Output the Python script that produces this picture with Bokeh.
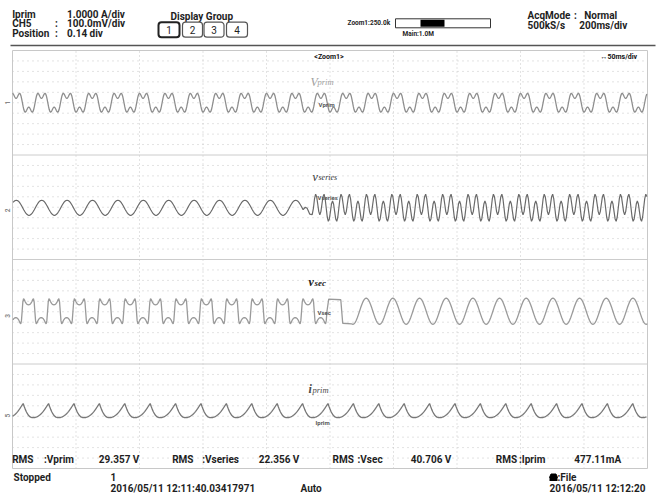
import numpy as np
from bokeh.plotting import figure
from bokeh.models import Range1d
from bokeh.core.properties import value
from bokeh.embed import file_html
from bokeh.resources import INLINE

# ---------------- acquisition / display settings ----------------
MS_PER_DIV = 50          # zoomed time base
N_DIV = 10
ROWS = 40                # 4 display panels x 10 rows
T_END = MS_PER_DIV * N_DIV

CH_NAME = "Iprim"
CH_ID = "CH5"
CH_SCALE = "1.0000 A/div"
CH_PROBE = "100.0mV/div"
CH_POSITION = "0.14 div"
DISPLAY_GROUPS = ["1", "2", "3", "4"]
ZOOM_TEXT = "Zoom1:250.0k"
MAIN_TEXT = "Main:1.0M"
ACQ_MODE = "Normal"
SAMPLE_RATE = "500kS/s"
MAIN_TIMEBASE = "200ms/div"
ZOOM_TITLE = "<Zoom1>"
ZOOM_TIMEBASE = "\u219450ms/div"

TRACE_NAMES = ["Vprim", "Vseries", "Vsec", "Iprim"]
RMS_VALUES = ["29.357 V", "22.356 V", "40.706 V", "477.11mA"]
STATUS = "Stopped"
ACQ_COUNT = "1"
TRIG_TIME = "2016/05/11 12:11:40.03417971"
TRIG_MODE = "Auto"
SAVE_TARGET = ":File"
SAVE_TIME = "2016/05/11 12:12:20"

# ---------------- one-cycle waveform shapes (normalised) ----------------
PERIOD_MS = 20.0          # 50 Hz
SEC_SINE_PERIOD_MS = 21.0

SINE_CYCLE = [0.0, 0.26, 0.50, 0.71, 0.87, 0.97, 1.0, 0.97, 0.87, 0.71, 0.50, 0.26,
              0.0, -0.26, -0.50, -0.71, -0.87, -0.97, -1.0, -0.97, -0.87, -0.71, -0.50, -0.26]

# primary voltage: "M" tops (10 degree steps, positive half)
VPRIM_HALF = [0.0, 0.39, 0.72, 0.93, 1.0, 0.94, 0.80, 0.64, 0.51,
              0.46, 0.51, 0.64, 0.80, 0.94, 1.0, 0.93, 0.72, 0.39]

# secondary voltage before the change: quasi-square with a dip on top
VSEC_SQ_HALF = [0.0, 0.75, 1.0, 0.93, 0.80, 0.68, 0.60, 0.55, 0.52,
                0.51, 0.52, 0.55, 0.60, 0.68, 0.80, 0.93, 1.0, 0.75]

# series voltage after the change: strong third-harmonic content
VSER_DIST_CYCLE = [0.0, 0.68, 1.0, 0.82, 0.28, -0.28, -0.51, -0.28, 0.28, 0.82, 1.0, 0.68,
                   0.0, -0.68, -1.0, -0.82, -0.28, 0.28, 0.51, 0.28, -0.28, -0.82, -1.0, -0.68]

# primary current: slow rise, sharp peak, quick fall (0 = trough, 1 = peak)
IPRIM_CYCLE = [0.00, 0.02, 0.05, 0.09, 0.14, 0.20, 0.27, 0.35, 0.44, 0.54, 0.65, 0.77,
               0.89, 1.00, 0.78, 0.58, 0.41, 0.27, 0.16, 0.08, 0.03, 0.00, -0.01, 0.00]

# trace levels (rows) and sizes (rows)
VPRIM_ZERO, VPRIM_AMP, VPRIM_T0 = 35.0, 0.9, -2.2
VSER_ZERO, VSER_AMP1, VSER_T0 = 24.95, 0.72, -2.0
VSER_AMP2, VSER_T_CHANGE = 1.3, 237.0
VSER_GLITCH_T = [230.5, 232.0, 234.0, 236.0]
VSER_GLITCH_V = [0.05, -0.05, -0.60, -0.65]
VSEC_ZERO, VSEC_AMP1, VSEC_T0 = 15.05, 1.2, -12.4
VSEC_T_CHANGE = 247.6
VSEC_STEP_T = [249.0, 258.5, 260.0, 267.0]
VSEC_STEP_V = [1.15, 1.10, -1.15, -1.22]
VSEC_AMP2, VSEC_SINE_START = 1.25, 268.0
IPRIM_LOW, IPRIM_PP, IPRIM_T0 = 4.88, 1.34, -2.43
CH_MARK_ROWS = [35.0, 24.7, 14.6, 5.07]
CH_MARK_TEXT = ["1", "2", "3", "5"]

# ---------------- screen geometry ----------------
W, H = 664, 497
FRAME_L, FRAME_R, FRAME_T, FRAME_B = 12, 647, 50, 468
MS_PER_PX = T_END / (FRAME_R - FRAME_L)
ROW_PER_PX = ROWS / (FRAME_B - FRAME_T)


def sx(px):
    return (px - FRAME_L) * MS_PER_PX


def sy(py):
    return ROWS - (py - FRAME_T) * ROW_PER_PX


def tile(cycle, period, t_first, t_start, t_end):
    """Repeat one sampled cycle, keeping the samples inside [t_start, t_end]."""
    n = len(cycle)
    dt = period / n
    k0 = int(np.floor((t_start - t_first) / period)) - 1
    k1 = int(np.ceil((t_end - t_first) / period)) + 1
    t = t_first + np.arange(k0 * n, k1 * n) * dt
    v = np.tile(np.asarray(cycle, dtype=float), k1 - k0)
    m = (t >= t_start) & (t <= t_end)
    return t[m], v[m]


VPRIM_CYCLE = VPRIM_HALF + [-v for v in VPRIM_HALF]
VSEC_SQ_CYCLE = VSEC_SQ_HALF + [-v for v in VSEC_SQ_HALF]

# Vprim
t1, v1 = tile(VPRIM_CYCLE, PERIOD_MS, VPRIM_T0, 0, T_END)
y1 = VPRIM_ZERO + VPRIM_AMP * v1

# Vseries
ta, va = tile(SINE_CYCLE, PERIOD_MS, VSER_T0, 0, 229.0)
tb, vb = tile(VSER_DIST_CYCLE, PERIOD_MS, VSER_T_CHANGE, VSER_T_CHANGE, T_END)
t2 = np.concatenate([ta, VSER_GLITCH_T, tb])
y2 = VSER_ZERO + np.concatenate([VSER_AMP1 * va, VSER_GLITCH_V, VSER_AMP2 * vb])

# Vsec
ta, va = tile(VSEC_SQ_CYCLE, PERIOD_MS, VSEC_T0, 0, VSEC_T_CHANGE)
sine_first = VSEC_SINE_START - 18 * SEC_SINE_PERIOD_MS / len(SINE_CYCLE)
tb, vb = tile(SINE_CYCLE, SEC_SINE_PERIOD_MS, sine_first, VSEC_SINE_START, T_END)
t3 = np.concatenate([ta, VSEC_STEP_T, tb])
y3 = VSEC_ZERO + np.concatenate([VSEC_AMP1 * va, VSEC_STEP_V, VSEC_AMP2 * vb])

# Iprim
t4, v4 = tile(IPRIM_CYCLE, PERIOD_MS, IPRIM_T0, 0, T_END)
y4 = IPRIM_LOW + IPRIM_PP * v4

# ---------------- figure ----------------
p = figure(width=W, height=H, x_range=Range1d(sx(0), sx(W)), y_range=Range1d(sy(H), sy(0)),
           output_backend="svg", toolbar_location=None, min_border=0,
           x_axis_location=None, y_axis_location=None)
p.grid.visible = False
p.outline_line_color = None
p.background_fill_color = "white"
p.border_fill_color = "white"

GRID = "#c6c6c6"
vx = [MS_PER_DIV * i for i in range(1, N_DIV)]
p.segment(x0=vx, y0=0, x1=vx, y1=ROWS, line_color=GRID, line_dash="1 3", line_width=1)
rows = [r for r in range(1, ROWS) if r % 10]
p.segment(x0=0, y0=rows, x1=T_END, y1=rows, line_color=GRID, line_dash="1 4", line_width=1)
seps = [10, 20, 30]
p.segment(x0=0, y0=seps, x1=T_END, y1=seps, line_color="#cccccc", line_width=1)
p.quad(left=0, right=T_END, bottom=0, top=ROWS, fill_color=None, line_color="#c8c8c8", line_width=1)
p.segment(x0=sx(10), y0=sy(45), x1=sx(655), y1=sy(45), line_color="#555555", line_width=1.5)

# traces
p.line(t1, y1, line_color="#8e8e8e", line_width=1.3)
p.line(t2, y2, line_color="#6a6a6a", line_width=1.2)
p.line(t3, y3, line_color="#9a9a9a", line_width=1.3)
p.line(t4, y4, line_color="#777777", line_width=1.3)

SANS = value("Roboto")
SERIF = value("Liberation Serif")


def put(texts, xs, ys, size, font=SANS, style="bold", color="#1e1e1e",
        align="left", baseline="middle", angle=0.0):
    p.text(x=[sx(v) for v in xs], y=[sy(v) for v in ys], text=list(texts),
           text_font=font, text_font_size=size, text_font_style=style,
           text_color=color, text_align=align, text_baseline=baseline, angle=angle)


TXT = "10px"

# header: channel settings
put([CH_NAME, CH_SCALE, CH_ID, ":", CH_PROBE, "Position", ":", CH_POSITION],
    [11.7, 66.5, 11.7, 54.5, 66.5, 11.7, 54.5, 66.5],
    [14, 14, 23.3, 23.3, 23.3, 33, 33, 33], TXT)

# header: display group selector
put(["Display Group"], [170], [15.8], TXT)
bx_l = [158.0, 182.0, 203.5, 226.0]
bx_r = [179.0, 202.0, 223.5, 247.0]
p.quad(left=[sx(v) for v in bx_l], right=[sx(v) for v in bx_r],
       top=sy(21.7), bottom=sy(36.7), fill_color="white",
       line_color=["#222222", "#555555", "#555555", "#555555"],
       line_width=[2.0, 1.2, 1.2, 1.2], border_radius=3)
put(DISPLAY_GROUPS, [(a + b) / 2 for a, b in zip(bx_l, bx_r)], [29.2] * 4, TXT,
    style="normal", align="center")

# header: zoom position bar
put([ZOOM_TEXT], [347], [22.7], "6.5px")
p.quad(left=sx(395), right=sx(490), top=sy(18.3), bottom=sy(27.3),
       fill_color="white", line_color="#333333", line_width=1)
p.quad(left=sx(420), right=sx(444), top=sy(19.3), bottom=sy(26.3),
       fill_color="black", line_color=None)
put([MAIN_TEXT], [402], [33.3], "6.5px")

# header: acquisition
put(["AcqMode", ":", ACQ_MODE, SAMPLE_RATE, MAIN_TIMEBASE],
    [527, 573.5, 583.7, 527, 578.7], [14.8, 14.8, 14.8, 24.5, 24.5], TXT)

# frame captions
put([ZOOM_TITLE], [328.5], [56.5], "7px", align="center", color="#111111")
put([ZOOM_TIMEBASE], [600], [56], "7px", color="#111111")

# panel titles (symbol with subscript)
put(["V"], [310], [81], "12px", font=SERIF, style="italic", color="#a0a0a0", baseline="alphabetic")
put(["prim"], [317], [81], "8.5px", font=SERIF, style="italic", color="#a0a0a0", baseline="alphabetic")
put(["v"], [312], [176], "12px", font=SERIF, style="italic", color="#333333", baseline="alphabetic")
put(["series"], [318], [177], "8px", font=SERIF, style="italic", color="#333333", baseline="alphabetic")
put(["v"], [308], [281.5], "12px", font=SERIF, style="bold italic", color="#222222", baseline="alphabetic")
put(["sec"], [314], [282], "9px", font=SERIF, style="bold italic", color="#222222", baseline="alphabetic")
put(["i"], [308], [388], "12px", font=SERIF, style="bold italic", color="#4a4a4a", baseline="alphabetic")
put(["prim"], [312], [389], "8.5px", font=SERIF, style="italic", color="#4a4a4a", baseline="alphabetic")

# trace name tags on the traces
put(TRACE_NAMES, [318, 317, 317, 315], [104, 197.3, 311.7, 422.3], "6px",
    color="#555555")

# channel markers at the left edge
put(CH_MARK_TEXT, [6.5] * 4, [50 + (ROWS - r) / ROW_PER_PX for r in CH_MARK_ROWS], "6.5px",
    color="#888888", align="center", angle=np.pi / 2)

# RMS measurement row
rms_x = [(11.7, 43.5, 98.3), (171.7, 201.7, 258.3), (332, 357, 410.3), (495.3, 518.5, 573.7)]
labels, xs = [], []
for (xa, xb, xc), name, val in zip(rms_x, TRACE_NAMES, RMS_VALUES):
    labels += ["RMS", ":" + name, val]
    xs += [xa, xb, xc]
put(labels, xs, [459.3] * len(labels), TXT)

# status line
put([STATUS, ACQ_COUNT, TRIG_TIME, TRIG_MODE, SAVE_TARGET, SAVE_TIME],
    [13, 110, 110, 300, 557, 549], [476.7, 476.7, 487.7, 487.7, 476.7, 487.7], TXT)
p.patch(x=[sx(550.5), sx(555.5), sx(557), sx(549)], y=[sy(473.5), sy(473.5), sy(477), sy(477)],
        fill_color="black", line_color="black")
p.quad(left=sx(549), right=sx(557), top=sy(477), bottom=sy(480.5), fill_color="black", line_color=None)

open("out.html", "w").write(file_html(p, INLINE))
